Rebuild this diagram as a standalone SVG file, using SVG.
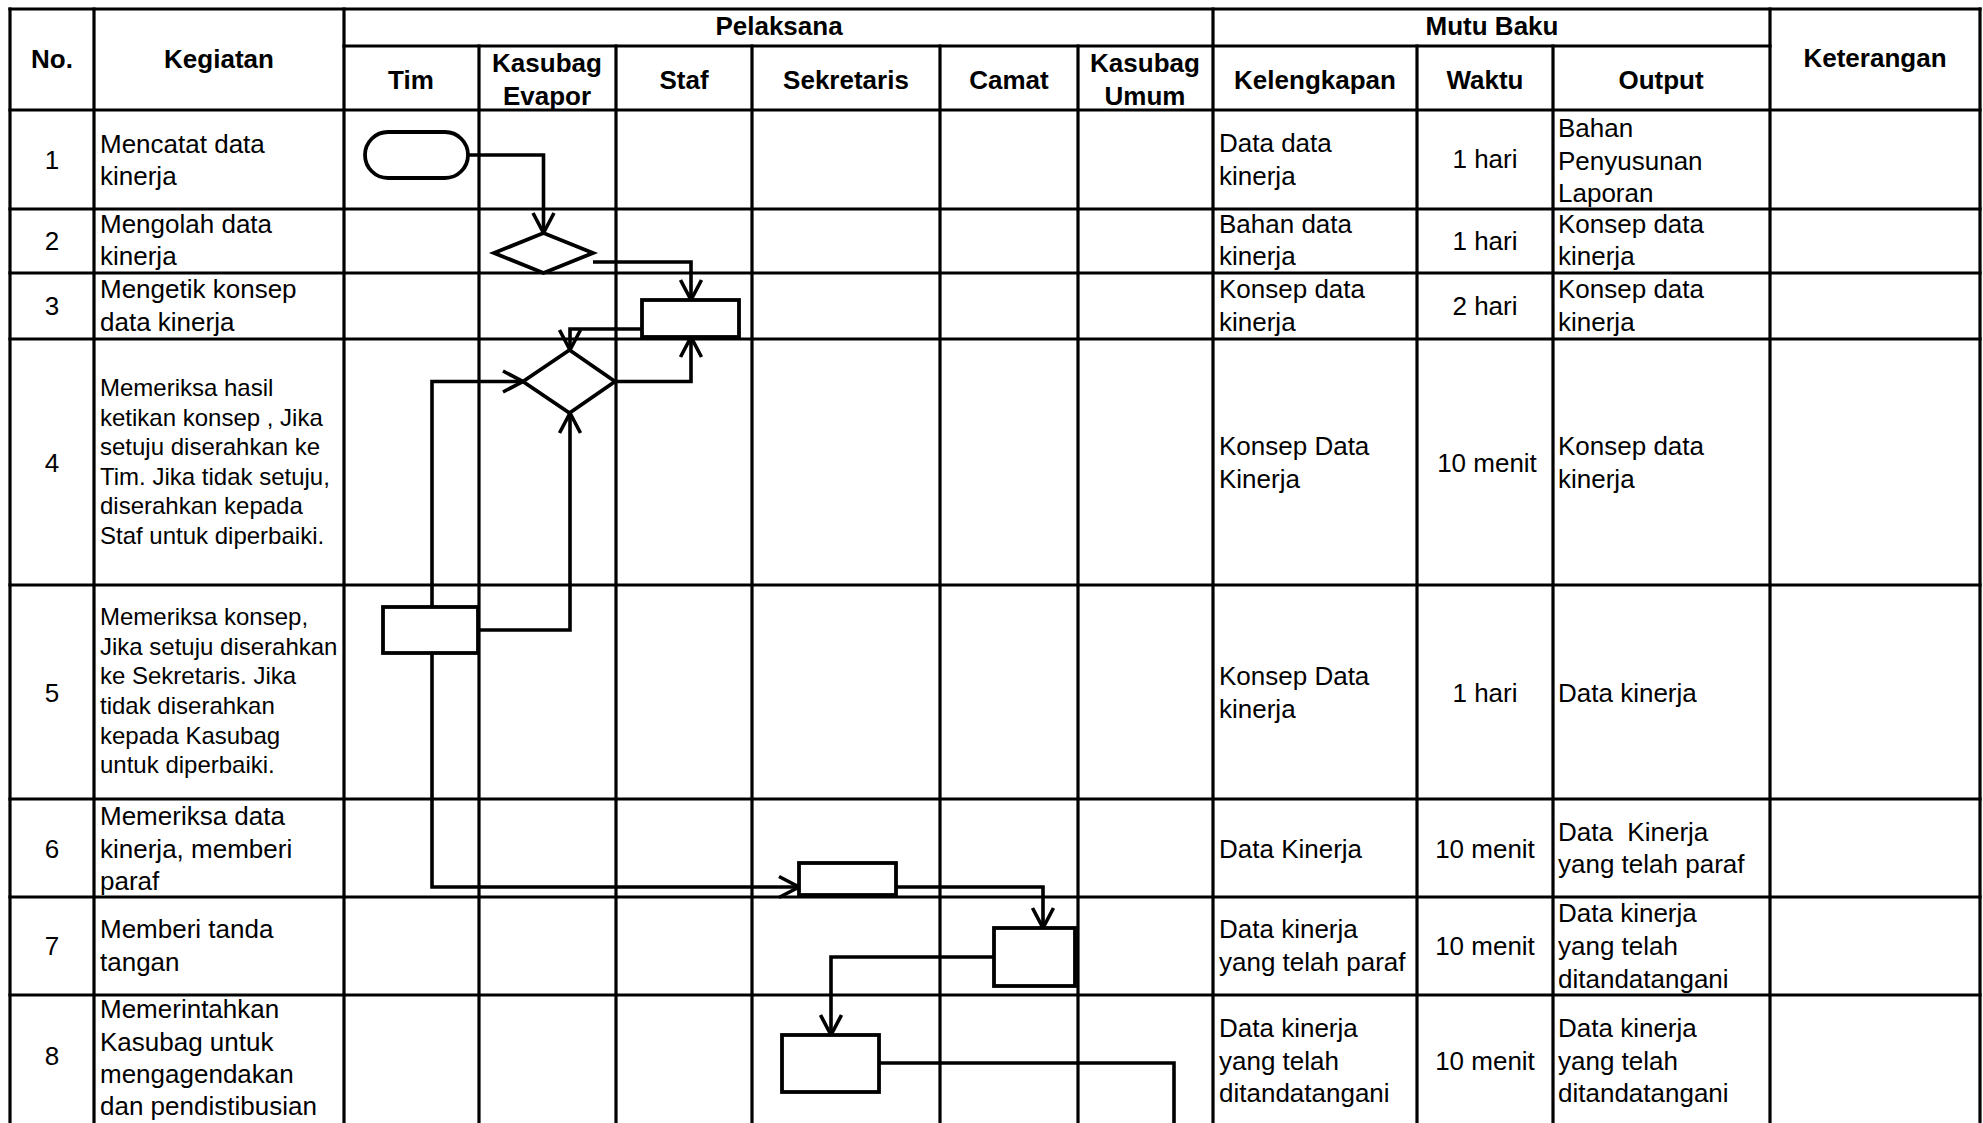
<svg xmlns="http://www.w3.org/2000/svg" width="1983" height="1123" viewBox="0 0 1983 1123">
<style>
text{font-family:"Liberation Sans",Arial,sans-serif;fill:#000}
.h{font-weight:bold;font-size:26px;text-anchor:middle}
.t{font-size:26px}
.s{font-size:24px}
.c{text-anchor:middle}
.grid line{stroke:#000;stroke-width:3.2;stroke-linecap:square}
.shape{fill:#fff;stroke:#000;stroke-width:3.8}
.conn path{fill:none;stroke:#000;stroke-width:3.6}
</style>
<defs>
<marker id="arr" markerUnits="userSpaceOnUse" markerWidth="28" markerHeight="28" viewBox="-24 -14 28 28" refX="0" refY="0" orient="auto">
<path d="M-20,-10.5 L0,0 L-20,10.5" fill="none" stroke="#000" stroke-width="3.6"/>
</marker>
</defs>
<rect width="1983" height="1123" fill="#fff"/>
<g id="grid" class="grid">
<line x1="10" y1="9" x2="1980" y2="9"/>
<line x1="344" y1="46" x2="1770" y2="46"/>
<line x1="10" y1="110" x2="1980" y2="110"/>
<line x1="10" y1="209" x2="1980" y2="209"/>
<line x1="10" y1="273" x2="1980" y2="273"/>
<line x1="10" y1="339" x2="1980" y2="339"/>
<line x1="10" y1="585" x2="1980" y2="585"/>
<line x1="10" y1="799" x2="1980" y2="799"/>
<line x1="10" y1="897" x2="1980" y2="897"/>
<line x1="10" y1="995" x2="1980" y2="995"/>
<line x1="10" y1="9" x2="10" y2="1130"/>
<line x1="94" y1="9" x2="94" y2="1130"/>
<line x1="344" y1="9" x2="344" y2="1130"/>
<line x1="479" y1="46" x2="479" y2="1130"/>
<line x1="616" y1="46" x2="616" y2="1130"/>
<line x1="752" y1="46" x2="752" y2="1130"/>
<line x1="940" y1="46" x2="940" y2="1130"/>
<line x1="1078" y1="46" x2="1078" y2="1130"/>
<line x1="1213" y1="9" x2="1213" y2="1130"/>
<line x1="1417" y1="46" x2="1417" y2="1130"/>
<line x1="1553" y1="46" x2="1553" y2="1130"/>
<line x1="1770" y1="9" x2="1770" y2="1130"/>
<line x1="1980" y1="9" x2="1980" y2="1130"/>
</g>
<g id="header">
<text class="h" x="52" y="68">No.</text>
<text class="h" x="219" y="68">Kegiatan</text>
<text class="h" x="779" y="35">Pelaksana</text>
<text class="h" x="1492" y="35">Mutu Baku</text>
<text class="h" x="1875" y="67">Keterangan</text>
<text class="h" x="411" y="89">Tim</text>
<text class="h" x="547" y="72">Kasubag</text>
<text class="h" x="547" y="105">Evapor</text>
<text class="h" x="684" y="89">Staf</text>
<text class="h" x="846" y="89">Sekretaris</text>
<text class="h" x="1009" y="89">Camat</text>
<text class="h" x="1145" y="72">Kasubag</text>
<text class="h" x="1145" y="105">Umum</text>
<text class="h" x="1315" y="89">Kelengkapan</text>
<text class="h" x="1485" y="89">Waktu</text>
<text class="h" x="1661" y="89">Output</text>
</g>
<g id="rows">
<text class="t c" x="52" y="169">1</text>
<text class="t" x="100" y="153">Mencatat data</text>
<text class="t" x="100" y="185">kinerja</text>
<text class="t" x="1219" y="152">Data data</text>
<text class="t" x="1219" y="185">kinerja</text>
<text class="t c" x="1485" y="168">1 hari</text>
<text class="t" x="1558" y="137">Bahan</text>
<text class="t" x="1558" y="170">Penyusunan</text>
<text class="t" x="1558" y="202">Laporan</text>

<text class="t c" x="52" y="250">2</text>
<text class="t" x="100" y="233">Mengolah data</text>
<text class="t" x="100" y="265">kinerja</text>
<text class="t" x="1219" y="233">Bahan data</text>
<text class="t" x="1219" y="265">kinerja</text>
<text class="t c" x="1485" y="250">1 hari</text>
<text class="t" x="1558" y="233">Konsep data</text>
<text class="t" x="1558" y="265">kinerja</text>

<text class="t c" x="52" y="315">3</text>
<text class="t" x="100" y="298">Mengetik konsep</text>
<text class="t" x="100" y="331">data kinerja</text>
<text class="t" x="1219" y="298">Konsep data</text>
<text class="t" x="1219" y="331">kinerja</text>
<text class="t c" x="1485" y="315">2 hari</text>
<text class="t" x="1558" y="298">Konsep data</text>
<text class="t" x="1558" y="331">kinerja</text>

<text class="t c" x="52" y="472">4</text>
<text class="s" x="100" y="396">Memeriksa hasil</text>
<text class="s" x="100" y="426">ketikan konsep , Jika</text>
<text class="s" x="100" y="455">setuju diserahkan ke</text>
<text class="s" x="100" y="485">Tim. Jika tidak setuju,</text>
<text class="s" x="100" y="514">diserahkan kepada</text>
<text class="s" x="100" y="544">Staf untuk diperbaiki.</text>
<text class="t" x="1219" y="455">Konsep Data</text>
<text class="t" x="1219" y="488">Kinerja</text>
<text class="t c" x="1487" y="472">10 menit</text>
<text class="t" x="1558" y="455">Konsep data</text>
<text class="t" x="1558" y="488">kinerja</text>

<text class="t c" x="52" y="702">5</text>
<text class="s" x="100" y="625">Memeriksa konsep,</text>
<text class="s" x="100" y="655">Jika setuju diserahkan</text>
<text class="s" x="100" y="684">ke Sekretaris. Jika</text>
<text class="s" x="100" y="714">tidak diserahkan</text>
<text class="s" x="100" y="744">kepada Kasubag</text>
<text class="s" x="100" y="773">untuk diperbaiki.</text>
<text class="t" x="1219" y="685">Konsep Data</text>
<text class="t" x="1219" y="718">kinerja</text>
<text class="t c" x="1485" y="702">1 hari</text>
<text class="t" x="1558" y="702">Data kinerja</text>

<text class="t c" x="52" y="858">6</text>
<text class="t" x="100" y="825">Memeriksa data</text>
<text class="t" x="100" y="858">kinerja, memberi</text>
<text class="t" x="100" y="890">paraf</text>
<text class="t" x="1219" y="858">Data Kinerja</text>
<text class="t c" x="1485" y="858">10 menit</text>
<text class="t" x="1558" y="841" xml:space="preserve">Data  Kinerja</text>
<text class="t" x="1558" y="873">yang telah paraf</text>

<text class="t c" x="52" y="955">7</text>
<text class="t" x="100" y="938">Memberi tanda</text>
<text class="t" x="100" y="971">tangan</text>
<text class="t" x="1219" y="938">Data kinerja</text>
<text class="t" x="1219" y="971">yang telah paraf</text>
<text class="t c" x="1485" y="955">10 menit</text>
<text class="t" x="1558" y="922">Data kinerja</text>
<text class="t" x="1558" y="955">yang telah</text>
<text class="t" x="1558" y="988">ditandatangani</text>

<text class="t c" x="52" y="1065">8</text>
<text class="t" x="100" y="1018">Memerintahkan</text>
<text class="t" x="100" y="1051">Kasubag untuk</text>
<text class="t" x="100" y="1083">mengagendakan</text>
<text class="t" x="100" y="1115">dan pendistibusian</text>
<text class="t" x="1219" y="1037">Data kinerja</text>
<text class="t" x="1219" y="1070">yang telah</text>
<text class="t" x="1219" y="1102">ditandatangani</text>
<text class="t c" x="1485" y="1070">10 menit</text>
<text class="t" x="1558" y="1037">Data kinerja</text>
<text class="t" x="1558" y="1070">yang telah</text>
<text class="t" x="1558" y="1102">ditandatangani</text>
</g>
<g id="connectors" class="conn">
<path d="M468,155 H543.5 V233" marker-end="url(#arr)"/>
<path d="M593,262 H691 V300" marker-end="url(#arr)"/>
<path d="M642,329 H570 V350" marker-end="url(#arr)"/>
<path d="M615,381.5 H691 V337" marker-end="url(#arr)"/>
<path d="M432,607 V381.5 H523" marker-end="url(#arr)"/>
<path d="M478,630 H570 V413" marker-end="url(#arr)"/>
<path d="M432,653 V887 H799" marker-end="url(#arr)"/>
<path d="M896,887 H1043 V928" marker-end="url(#arr)"/>
<path d="M994,957 H831 V1035" marker-end="url(#arr)"/>
<path d="M879,1063 H1174 V1130"/>
</g>
<g id="n1"><rect class="shape" x="365" y="132" width="103" height="46" rx="23"/></g>
<g id="n2"><polygon class="shape" points="494,253 543.5,233 593,253 543.5,273"/></g>
<g id="n3"><rect class="shape" x="642" y="300" width="97" height="37"/></g>
<g id="n4"><polygon class="shape" points="523,381.5 569.5,350 615,381.5 569.5,413"/></g>
<g id="n5"><rect class="shape" x="383" y="607" width="95" height="46"/></g>
<g id="n6"><rect class="shape" x="799" y="863" width="97" height="32"/></g>
<g id="n7"><rect class="shape" x="994" y="928" width="81" height="58"/></g>
<g id="n8"><rect class="shape" x="782" y="1035" width="97" height="57"/></g>
</svg>
